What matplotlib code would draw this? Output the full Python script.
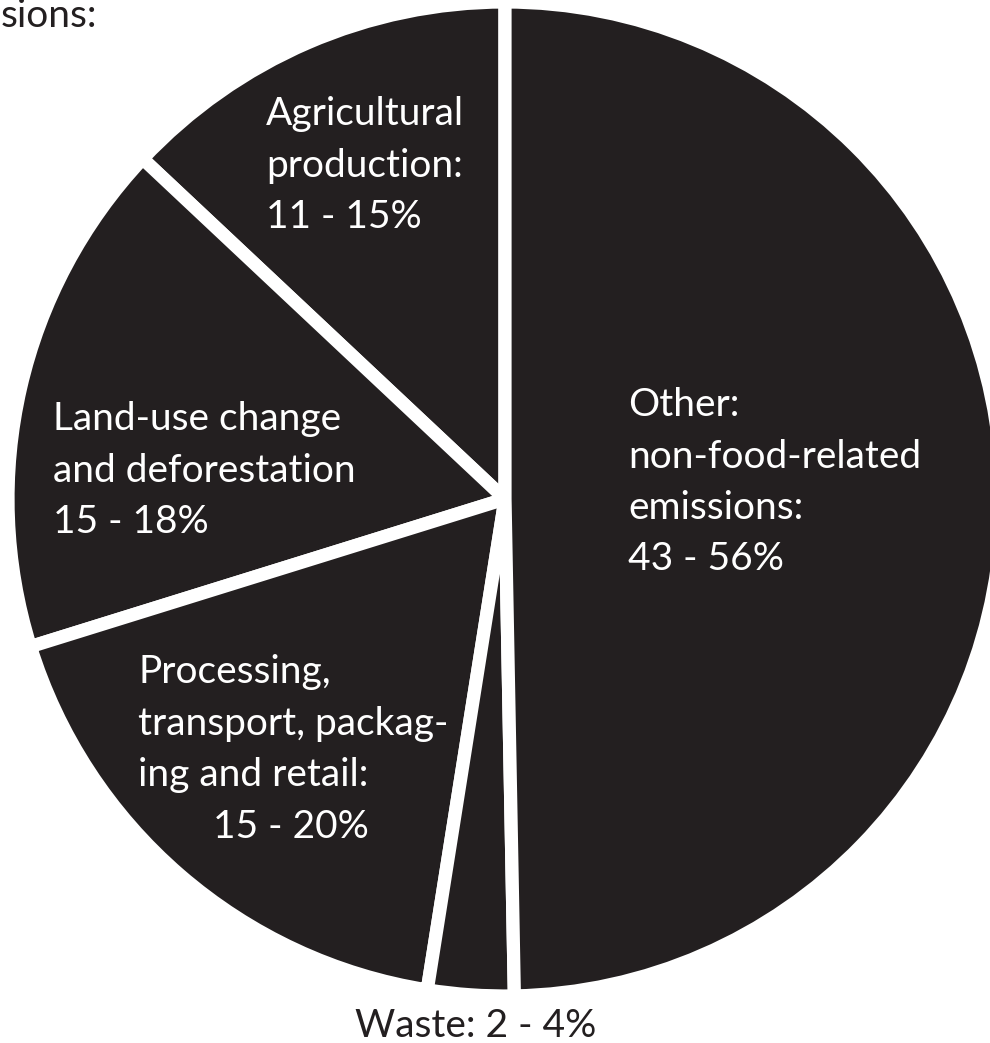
import matplotlib.pyplot as plt

# slice shares (angle of each wedge / 360)
segments = ['Agricultural production', 'Land-use change and deforestation',
            'Processing, transport, packaging and retail', 'Waste', 'Other']
shares = [13.0, 16.8, 17.7, 2.8, 49.7]

agri_lines = ['Agricultural', 'production:', '11 - 15%']
land_lines = ['Land-use change', 'and deforestation', '15 - 18%']
proc_lines = ['Processing,', 'transport, packag-', 'ing and retail:']
proc_range = '15 - 20%'
other_lines = ['Other:', 'non-food-related', 'emissions:', '43 - 56%']
waste_label = 'Waste: 2 - 4%'
head_label = 'sions:'

W, H = 990, 1043
dark = '#231f20'
plt.rcParams['font.family'] = ['Lato', 'DejaVu Sans']
fs = 28
step = 51.5

fig = plt.figure(figsize=(W / 100, H / 100), dpi=100)
ax = fig.add_axes([0, 0, 1, 1])

ax.pie(shares, startangle=90, counterclock=True, center=(505, H - 499),
       radius=497, colors=[dark] * len(shares), frame=True,
       wedgeprops=dict(edgecolor='white', linewidth=9.5))

ax.set_xlim(0, W)
ax.set_ylim(0, H)
ax.set_aspect('equal')
ax.axis('off')


def put_lines(x, y0, lines, color='white'):
    # y0 is the baseline of the first line, in image pixels from the top
    for i, s in enumerate(lines):
        ax.text(x, H - (y0 + i * step), s, color=color, fontsize=fs,
                ha='left', va='baseline')


put_lines(266, 125, agri_lines)
put_lines(628, 416, other_lines)
put_lines(53, 430, land_lines)
put_lines(138, 683, proc_lines)
put_lines(213, 683 + 3 * step, [proc_range])
put_lines(355, 1037, [waste_label], color=dark)
put_lines(1, 27, [head_label], color=dark)

fig.savefig('out.png', dpi=100, facecolor='white')
